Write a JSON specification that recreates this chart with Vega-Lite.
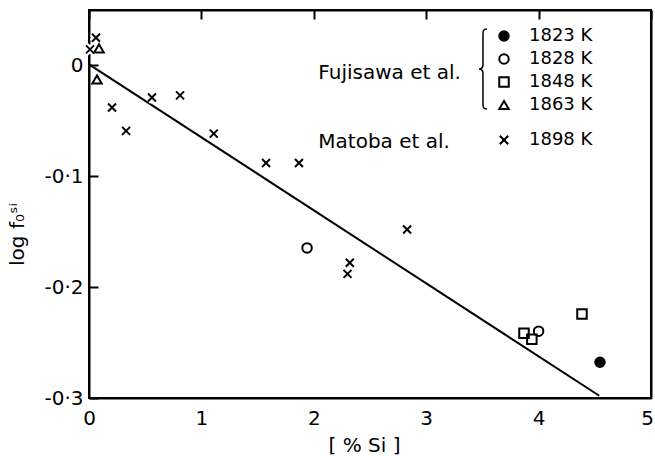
{
  "$schema": "https://vega.github.io/schema/vega-lite/v6.json",
  "width": 562,
  "height": 388,
  "autosize": {"type": "none"},
  "padding": {"left": 89, "top": 10, "right": 4, "bottom": 58},
  "background": "white",
  "config": {
    "view": {"stroke": "black", "strokeWidth": 2},
    "font": "DejaVu Sans",
    "axis": {
      "zindex": 1,
      "domain": true, "domainColor": "black", "domainWidth": 2,
      "ticks": false,
      "grid": true, "gridColor": "black", "gridWidth": 2, "gridOpacity": 1, "gridDash": [9, 2000],
      "labelFont": "DejaVu Sans", "labelFontSize": 20, "labelColor": "black",
      "titleFont": "DejaVu Sans", "titleFontSize": 20, "titleFontWeight": "normal", "titleColor": "black"
    },
    "legend": {
      "labelFont": "DejaVu Sans", "labelFontSize": 18, "labelColor": "black",
      "symbolStrokeColor": "black", "symbolStrokeWidth": 2, "symbolSize": 90,
      "rowPadding": 5, "labelOffset": 16, "padding": 0
    }
  },
  "datasets": {
    "points": [
      {"x": 0.062, "y": 0.025, "source": "Matoba", "temp": "1898 K"},
      {"x": 0.009, "y": 0.0145, "source": "Matoba", "temp": "1898 K"},
      {"x": 0.56, "y": -0.029, "source": "Matoba", "temp": "1898 K"},
      {"x": 0.81, "y": -0.027, "source": "Matoba", "temp": "1898 K"},
      {"x": 0.205, "y": -0.038, "source": "Matoba", "temp": "1898 K"},
      {"x": 0.33, "y": -0.059, "source": "Matoba", "temp": "1898 K"},
      {"x": 1.11, "y": -0.0615, "source": "Matoba", "temp": "1898 K"},
      {"x": 1.575, "y": -0.088, "source": "Matoba", "temp": "1898 K"},
      {"x": 1.868, "y": -0.088, "source": "Matoba", "temp": "1898 K"},
      {"x": 2.83, "y": -0.148, "source": "Matoba", "temp": "1898 K"},
      {"x": 2.32, "y": -0.178, "source": "Matoba", "temp": "1898 K"},
      {"x": 2.30, "y": -0.188, "source": "Matoba", "temp": "1898 K"},
      {"x": 0.089, "y": 0.0154, "source": "Fujisawa", "temp": "1863 K"},
      {"x": 0.071, "y": -0.0127, "source": "Fujisawa", "temp": "1863 K"},
      {"x": 1.94, "y": -0.1646, "source": "Fujisawa", "temp": "1828 K"},
      {"x": 4.00, "y": -0.2397, "source": "Fujisawa", "temp": "1828 K"},
      {"x": 3.87, "y": -0.2415, "source": "Fujisawa", "temp": "1848 K"},
      {"x": 3.94, "y": -0.247, "source": "Fujisawa", "temp": "1848 K"},
      {"x": 4.386, "y": -0.2243, "source": "Fujisawa", "temp": "1848 K"},
      {"x": 4.546, "y": -0.2677, "source": "Fujisawa", "temp": "1823 K"}
    ],
    "fit": [
      {"x": 0.0, "y": 0.001},
      {"x": 4.54, "y": -0.298}
    ]
  },
  "layer": [
    {
      "data": {"name": "fit"},
      "mark": {"type": "line", "color": "black", "strokeWidth": 2},
      "encoding": {
        "x": {"field": "x", "type": "quantitative",
          "scale": {"domain": [0, 5], "nice": false, "zero": false},
          "axis": {"orient": "bottom", "values": [0, 1, 2, 3, 4, 5], "labelPadding": 10, "labelFlush": false,
            "labelOffset": {"condition": {"test": "datum.value === 5", "value": -4}, "value": 0},
            "title": "[ % Si ]", "titleX": 275, "titleY": 47, "titleBaseline": "middle"}},
        "y": {"field": "y", "type": "quantitative",
          "scale": {"domain": [-0.3, 0.05], "nice": false, "zero": false},
          "axis": {"orient": "left", "values": [-0.3, -0.2, -0.1, 0], "labelPadding": 6, "labelFlush": false,
            "labelExpr": "datum.value === 0 ? '0' : '-0·' + round(abs(datum.value) * 10)",
            "title": "log f₀ˢⁱ", "titleX": -72, "titleY": 224, "titleBaseline": "middle"}}
      }
    },
    {
      "data": {"name": "points"},
      "transform": [{"filter": "datum.source === 'Matoba'"}],
      "mark": {"type": "point", "shape": "M-1,-1L1,1M-1,1L1,-1", "filled": false, "stroke": "white", "strokeWidth": 6, "size": 64, "opacity": 1},
      "encoding": {
        "x": {"field": "x", "type": "quantitative",
          "scale": {"domain": [0, 5], "nice": false, "zero": false},
          "axis": {"orient": "top", "values": [0, 1, 2, 3, 4, 5], "labels": false, "title": null}},
        "y": {"field": "y", "type": "quantitative",
          "scale": {"domain": [-0.3, 0.05], "nice": false, "zero": false},
          "axis": {"orient": "right", "values": [-0.3, -0.2, -0.1, 0], "labels": false, "title": null}}
      }
    },
    {
      "data": {"name": "points"},
      "transform": [{"filter": "datum.source === 'Matoba'"}],
      "mark": {"type": "point", "filled": false, "stroke": "black", "strokeWidth": 2, "size": 64, "opacity": 1},
      "encoding": {
        "x": {"field": "x", "type": "quantitative", "scale": {"domain": [0, 5], "nice": false, "zero": false}, "axis": null},
        "y": {"field": "y", "type": "quantitative", "scale": {"domain": [-0.3, 0.05], "nice": false, "zero": false}, "axis": null},
        "shape": {"field": "temp", "type": "nominal",
          "scale": {"domain": ["1898 K"], "range": ["M-1,-1L1,1M-1,1L1,-1"]},
          "legend": {"orient": "none", "legendX": 406, "legendY": 121, "title": null, "symbolSize": 70,
            "symbolStrokeColor": "black", "symbolFillColor": "transparent", "symbolStrokeWidth": 2}}
      }
    },
    {
      "data": {"name": "points"},
      "transform": [{"filter": "datum.source === 'Fujisawa'"}],
      "mark": {"type": "point", "filled": true, "strokeWidth": 2, "size": 90, "opacity": 1},
      "encoding": {
        "x": {"field": "x", "type": "quantitative", "scale": {"domain": [0, 5], "nice": false, "zero": false}, "axis": null},
        "y": {"field": "y", "type": "quantitative", "scale": {"domain": [-0.3, 0.05], "nice": false, "zero": false}, "axis": null},
        "shape": {"field": "temp", "type": "nominal",
          "scale": {"domain": ["1823 K", "1828 K", "1848 K", "1863 K"], "range": ["circle", "circle", "square", "triangle-up"]},
          "legend": {"orient": "none", "legendX": 406, "legendY": 17, "title": null}},
        "fill": {"field": "temp", "type": "nominal",
          "scale": {"domain": ["1823 K", "1828 K", "1848 K", "1863 K"], "range": ["black", "transparent", "transparent", "transparent"]},
          "legend": {"orient": "none", "legendX": 406, "legendY": 17, "title": null}},
        "stroke": {"field": "temp", "type": "nominal",
          "scale": {"domain": ["1823 K", "1828 K", "1848 K", "1863 K"], "range": ["black", "black", "black", "black"]},
          "legend": {"orient": "none", "legendX": 406, "legendY": 17, "title": null}}
      }
    },
    {
      "data": {"values": [{}]},
      "mark": {"type": "text", "text": "Fujisawa et al.", "align": "left", "baseline": "middle", "fontSize": 20, "font": "DejaVu Sans", "color": "black"},
      "encoding": {
        "x": {"datum": 2.04, "type": "quantitative", "scale": {"domain": [0, 5], "nice": false, "zero": false}, "axis": null},
        "y": {"datum": -0.007, "type": "quantitative", "scale": {"domain": [-0.3, 0.05], "nice": false, "zero": false}, "axis": null}
      }
    },
    {
      "data": {"values": [{}]},
      "mark": {"type": "text", "text": "Matoba et al.", "align": "left", "baseline": "middle", "fontSize": 20, "font": "DejaVu Sans", "color": "black"},
      "encoding": {
        "x": {"datum": 2.04, "type": "quantitative", "scale": {"domain": [0, 5], "nice": false, "zero": false}, "axis": null},
        "y": {"datum": -0.0695, "type": "quantitative", "scale": {"domain": [-0.3, 0.05], "nice": false, "zero": false}, "axis": null}
      }
    },
    {
      "data": {"values": [{}]},
      "mark": {"type": "point", "shape": "M0.1,-1C0,-1 0,-0.95 0,-0.85L0,-0.12C0,-0.03 -0.05,0 -0.1,0C-0.05,0 0,0.03 0,0.12L0,0.85C0,0.95 0,1 0.1,1", "filled": false, "stroke": "black", "strokeWidth": 1.5, "size": 6400, "opacity": 1},
      "encoding": {
        "x": {"datum": 3.505, "type": "quantitative", "scale": {"domain": [0, 5], "nice": false, "zero": false}, "axis": null},
        "y": {"datum": -0.0032, "type": "quantitative", "scale": {"domain": [-0.3, 0.05], "nice": false, "zero": false}, "axis": null}
      }
    }
  ],
  "resolve": {
    "scale": {"shape": "independent", "fill": "independent", "stroke": "independent"},
    "axis": {"x": "independent", "y": "independent"}
  }
}
